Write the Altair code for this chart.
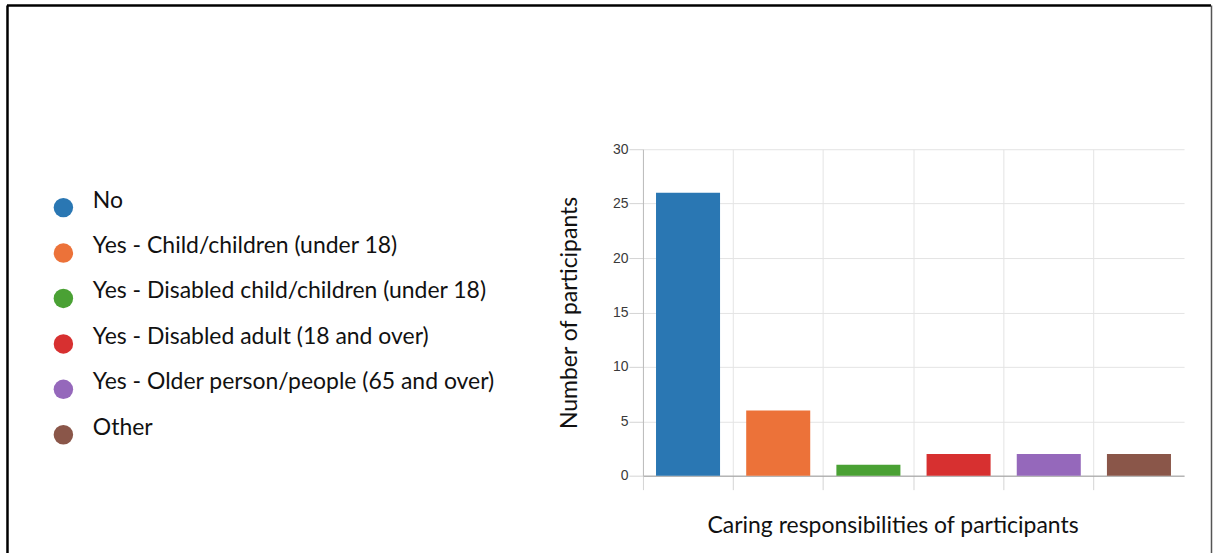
import altair as alt
import pandas as pd

# Survey answers: caring responsibilities of participants
categories = [
    "No",
    "Yes - Child/children (under 18)",
    "Yes - Disabled child/children (under 18)",
    "Yes - Disabled adult (18 and over)",
    "Yes - Older person/people (65 and over)",
    "Other",
]
counts = [26, 6, 1, 2, 2, 2]
colors = ["#2a77b3", "#ec7239", "#4aa134", "#d73030", "#9568bb", "#8a5649"]
y_ticks = [0, 5, 10, 15, 20, 25, 30]

df = pd.DataFrame({"category": categories, "count": counts})

TEXT_FONT = "Lato"
PAD_INNER = 0.29
# shift x ticks/grid from the band start to the midpoint of the gap between bars
GRID_SHIFT = -(PAD_INNER / 2) / (1 - PAD_INNER)

bars = alt.Chart(df).mark_bar().encode(
    x=alt.X(
        "category:N",
        sort=categories,
        scale=alt.Scale(paddingInner=PAD_INNER, paddingOuter=PAD_INNER / 2),
        axis=alt.Axis(
            title="Caring responsibilities of participants",
            labels=False,
            bandPosition=GRID_SHIFT,
            grid=True,
            gridColor="#e4e4e4",
            tickColor="#d4d4d4",
            tickSize=14,
            domainColor="#9a9a9a",
            titleFont=TEXT_FONT,
            titleFontSize=23,
            titleFontWeight="normal",
            titleColor="#111111",
            titlePadding=24,
            titleX=250,
            titleAlign="center",
        ),
    ),
    y=alt.Y(
        "count:Q",
        scale=alt.Scale(domain=[0, 30]),
        axis=alt.Axis(
            values=y_ticks,
            title="Number of participants",
            grid=True,
            gridColor="#e4e4e4",
            tickColor="#d4d4d4",
            tickSize=14,
            domainColor="#bbbbbb",
            labelFont="Liberation Sans",
            labelFontSize=14,
            labelColor="#3a3a3a",
            labelPadding=1,
            titleFont=TEXT_FONT,
            titleFontSize=23,
            titleFontWeight="normal",
            titleColor="#111111",
            titlePadding=31,
        ),
    ),
    color=alt.Color(
        "category:N",
        sort=categories,
        scale=alt.Scale(domain=categories, range=colors),
        legend=alt.Legend(
            title=None,
            orient="none",
            legendX=-592,
            legendY=47,
            symbolType="circle",
            symbolSize=380,
            symbolStrokeWidth=0,
            symbolOpacity=1,
            labelFont=TEXT_FONT,
            labelFontSize=23,
            labelColor="#111111",
            labelOffset=18,
            labelBaseline="alphabetic",
            labelLimit=600,
            rowPadding=16.5,
            padding=0,
        ),
    ),
)

# Outer frame of the figure
frame_data = pd.DataFrame({"k": [0]})
top_edge = alt.Chart(frame_data).mark_rule(color="#000000", strokeWidth=2.5).encode(
    x=alt.value(-637), x2=alt.value(569), y=alt.value(-144)
)
left_edge = alt.Chart(frame_data).mark_rule(color="#000000", strokeWidth=2.5).encode(
    x=alt.value(-636.5), y=alt.value(-144), y2=alt.value(412)
)
right_edge = alt.Chart(frame_data).mark_rule(color="#555555", strokeWidth=1.5).encode(
    x=alt.value(569.5), y=alt.value(-144), y2=alt.value(412)
)

chart = (
    alt.layer(bars, top_edge, left_edge, right_edge)
    .properties(
        width=542,
        height=327,
        padding={"left": 5, "top": 3, "right": 0, "bottom": 0},
        background="white",
    )
    .configure_view(stroke=None)
)

chart.save("out.html", embed_options={"renderer": "svg", "actions": False})
